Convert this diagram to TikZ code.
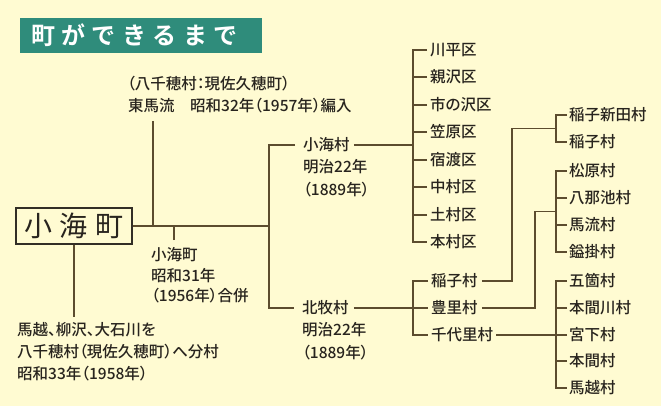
\documentclass[tikz,border=0pt]{standalone}
\usepackage{fontspec}
\usetikzlibrary{calc}
\IfFontExistsTF{Noto Sans CJK JP Medium}
  {\newfontfamily\jp[RawFeature=+palt]{Noto Sans CJK JP Medium}}
  {\newfontfamily\jp[RawFeature={+palt;embolden=1}]{Noto Sans CJK JP}}
\newfontfamily\jpb{Noto Sans CJK JP}
\IfFontExistsTF{Noto Sans CJK JP Bold}
  {\newfontfamily\jpt{Noto Sans CJK JP Bold}}
  {\newfontfamily\jpt[RawFeature={embolden=2.5}]{Noto Sans CJK JP}}
\definecolor{bgc}{RGB}{255,251,210}
\definecolor{titlec}{RGB}{47,140,123}
\definecolor{linec}{RGB}{92,76,46}
\definecolor{txtc}{RGB}{40,36,30}
\definecolor{boxc}{RGB}{50,46,38}
\begin{document}
\begin{tikzpicture}[x=1pt,y=-1pt,
  lbl/.style={font=\jp\fontsize{15.5}{18}\selectfont, text=txtc, inner sep=0pt, anchor=west},
  ln/.style={draw=linec, line width=1.3pt},
]
\fill[bgc] (0,0) rectangle (661,406);
\useasboundingbox (0,0) rectangle (661,406);
% title
\fill[titlec] (20,18) rectangle (262,53);
\node[anchor=west, inner sep=0pt, text=white, font=\jpt\fontsize{24}{28}\selectfont] (tt) at (31,35.5)
  {町\hspace{6.4pt}が\hspace{6.4pt}で\hspace{6.4pt}き\hspace{6.4pt}る\hspace{6.4pt}ま\hspace{6.4pt}で};
% main box
\node[draw=boxc, line width=1.2pt, minimum width=116pt, minimum height=36pt, inner sep=0pt,
  font=\jpb\fontsize{28}{30}\selectfont, text=txtc] (main) at (74,226) {小\hspace{8pt}海\hspace{8pt}町};
% left texts
\node[lbl] (hm1) at (127,84) {（八千穂村：現佐久穂町）};
\node[lbl] (hm2) at (128,106) {東馬流　昭和32年（1957年）編入};
\node[lbl] (km1) at (151,255) {小海町};
\node[lbl] (km2) at (151,276) {昭和31年};
\node[lbl] (km3) at (151,296) {（1956年）合併};
\node[lbl] (bs1) at (17,330) {馬越、柳沢、大石川を};
\node[lbl] (bs2) at (17,352) {八千穂村（現佐久穂町）へ分村};
\node[lbl] (bs3) at (17,374) {昭和33年（1958年）};
\node[lbl] (ks) at (303,145) {小海村};
\node[lbl] (ks2) at (303,167) {明治22年};
\node[lbl] (ks3) at (303,190) {（1889年）};
\node[lbl] (kt) at (302,308) {北牧村};
\node[lbl] (kt2) at (302,330) {明治22年};
\node[lbl] (kt3) at (302,353) {（1889年）};
% ku list
\foreach \n/\y/\t in {1/50/川平区,2/77/親沢区,3/105/市の沢区,4/132/笠原区,5/160/宿渡区,6/187/中村区,7/215/土村区,8/242/本村区}
  \node[lbl] (k\n) at (430,\y) {\t};
% kitamaki villages
\foreach \n/\y/\t in {1/281/稲子村,2/308/豊里村,3/335/千代里村}
  \node[lbl] (m\n) at (431,\y) {\t};
% right column
\foreach \n/\y/\t in {1/115/稲子新田村,2/142/稲子村,3/171/松原村,4/198/八那池村,5/225/馬流村,6/252/鎰掛村,7/281/五箇村,8/308/本間川村,9/335/宮下村,10/361/本間村,11/388/馬越村}
  \node[lbl] (r\n) at (569,\y) {\t};
% trunk
\coordinate (ttop) at (269,145);
\coordinate (tbot) at (269,308);
\coordinate (tx) at (269,0);
\draw[ln] ([xshift=-8pt]ks.west) -- (ttop) -- (tbot) -- ([xshift=-8pt]kt.west);
\draw[ln] (main.east) -- (tx |- main.east);
\coordinate (hmtop) at (153,121);
\draw[ln] (hmtop) -- (hmtop |- main.east);
\coordinate (kmtop) at (174,240);
\draw[ln] (kmtop) -- (kmtop |- main.east);
\coordinate (bsend) at (74,317);
\draw[ln] (main.south) -- (bsend);
% ku bracket
\coordinate (kux) at (413,0);
\draw[ln] ([xshift=4pt]ks.east) -- (kux |- ks.east);
\draw[ln] ([xshift=-3pt]k1.west) -- (kux |- k1.west) -- (kux |- k8.west) -- ([xshift=-3pt]k8.west);
\foreach \i in {2,...,7} \draw[ln] ([xshift=-3pt]k\i.west) -- (kux |- k\i.west);
% kitamaki bracket
\draw[ln] ([xshift=5pt]kt.east) -- ([xshift=-3pt]m2.west);
\draw[ln] ([xshift=-3pt]m1.west) -- (kux |- m1.west) -- (kux |- m3.west) -- ([xshift=-3pt]m3.west);
% right brackets
\coordinate (rx) at (556,0);
\draw[ln] ([xshift=-2pt]r1.west) -- (rx |- r1.west) -- (rx |- r2.west) -- ([xshift=-2pt]r2.west);
\draw[ln] ([xshift=-2pt]r3.west) -- (rx |- r3.west) -- (rx |- r6.west) -- ([xshift=-2pt]r6.west);
\foreach \i in {4,5} \draw[ln] ([xshift=-2pt]r\i.west) -- (rx |- r\i.west);
\draw[ln] ([xshift=-2pt]r7.west) -- (rx |- r7.west) -- (rx |- r11.west) -- ([xshift=-2pt]r11.west);
\foreach \i in {8,9,10} \draw[ln] ([xshift=-2pt]r\i.west) -- (rx |- r\i.west);
% cross connections
\coordinate (ca) at ($(r1.west)!0.5!(r2.west)$);
\coordinate (cb) at ($(r3.west)!0.5!(r6.west)$);
\coordinate (c1) at (512,0);
\coordinate (c2) at (535,0);
\draw[ln] ([xshift=4pt]m1.east) -- (c1 |- m1.east) -- (c1 |- ca) -- (rx |- ca);
\draw[ln] ([xshift=4pt]m2.east) -- (c2 |- m2.east) -- (c2 |- cb) -- (rx |- cb);
\draw[ln] ([xshift=3pt]m3.east) -- (rx |- m3.east);
\end{tikzpicture}
\end{document}
